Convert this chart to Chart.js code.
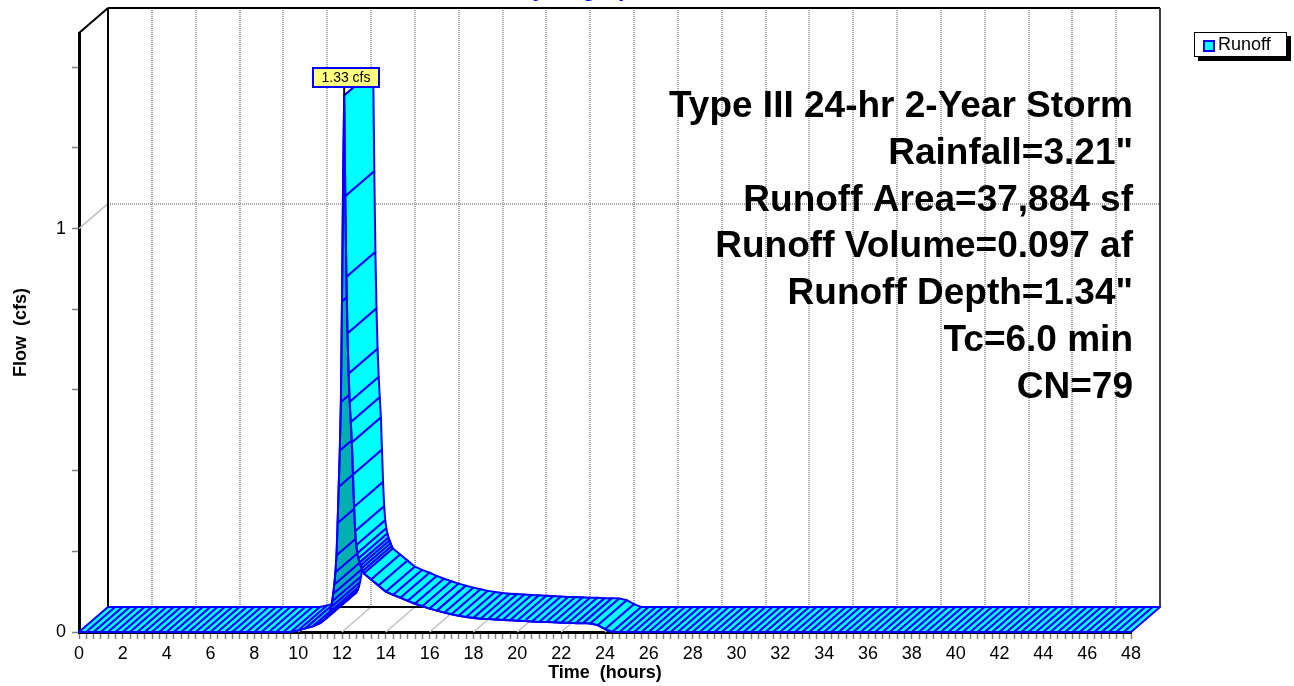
<!DOCTYPE html>
<html>
<head>
<meta charset="utf-8">
<script src="https://cdn.jsdelivr.net/npm/chart.js@4.4.1/dist/chart.umd.min.js"></script>
<style>
  html, body { margin: 0; padding: 0; background: #fff; }
  canvas { display: block; }
</style>
</head>
<body>
<canvas id="hydrograph" width="1294" height="686"></canvas>
<script>
/* ================= DATA ================= */
const seriesName = "Runoff";
const chartTitle = "Hydrograph";
const xTitle = "Time  (hours)";
const yTitle = "Flow  (cfs)";
const peakUnit = "cfs";

const timeHours = [
    0, 0.33, 0.67, 1, 1.33, 1.67, 2, 2.33, 2.67, 3,
    3.33, 3.67, 4, 4.33, 4.67, 5, 5.33, 5.67, 6, 6.33,
    6.67, 7, 7.33, 7.67, 8, 8.33, 8.67, 9, 9.33, 9.67,
    10, 10.33, 10.67, 11, 11.33,
    11.4, 11.45, 11.5, 11.55, 11.6, 11.65, 11.7, 11.75, 11.8, 11.85,
    11.9, 11.95, 12, 12.05, 12.1, 12.15, 12.2, 12.25, 12.3, 12.35,
    12.4, 12.45, 12.5, 12.55, 12.6, 12.65, 12.7, 12.75, 12.8, 12.85,
    12.9, 12.95, 13,
    13.33, 13.67, 14, 14.33, 14.67, 15, 15.33, 15.67, 16, 16.33,
    16.67, 17, 17.33, 17.67, 18, 18.33, 18.67, 19, 19.33, 19.67,
    20, 20.33, 20.67, 21, 21.33, 21.67, 22, 22.33, 22.67, 23,
    23.33, 23.67, 24, 24.33,
    24.67, 25, 25.33, 25.67, 26, 26.33, 26.67, 27, 27.33, 27.67,
    28, 28.33, 28.67, 29, 29.33, 29.67, 30, 30.33, 30.67, 31,
    31.33, 31.67, 32, 32.33, 32.67, 33, 33.33, 33.67, 34, 34.33,
    34.67, 35, 35.33, 35.67, 36, 36.33, 36.67, 37, 37.33, 37.67,
    38, 38.33, 38.67, 39, 39.33, 39.67, 40, 40.33, 40.67, 41,
    41.33, 41.67, 42, 42.33, 42.67, 43, 43.33, 43.67, 44, 44.33,
    44.67, 45, 45.33, 45.67, 46, 46.33, 46.67, 47, 47.33, 47.67,
    48
];

const runoffCfs = [
    0, 0, 0, 0, 0, 0, 0, 0, 0, 0,
    0, 0, 0, 0, 0, 0, 0, 0, 0, 0,
    0, 0, 0, 0, 0, 0, 0, 0, 0, 0,
    0.004, 0.009, 0.014, 0.022, 0.036,
    0.043, 0.05, 0.062, 0.076, 0.095, 0.118, 0.148, 0.19, 0.27, 0.36,
    0.45, 0.57, 0.82, 1.12, 1.33, 1.08, 0.88, 0.74, 0.64, 0.57,
    0.52, 0.47, 0.39, 0.31, 0.25, 0.215, 0.195, 0.182, 0.172, 0.165,
    0.158, 0.151, 0.145,
    0.13, 0.115, 0.1, 0.092, 0.085, 0.077, 0.07, 0.064, 0.058, 0.053,
    0.048, 0.044, 0.04, 0.037, 0.035, 0.033, 0.032, 0.031, 0.03, 0.029,
    0.028, 0.027, 0.026, 0.025, 0.025, 0.024, 0.023, 0.023, 0.022, 0.022,
    0.021, 0.017, 0.007, 0,
    0, 0, 0, 0, 0, 0, 0, 0, 0, 0,
    0, 0, 0, 0, 0, 0, 0, 0, 0, 0,
    0, 0, 0, 0, 0, 0, 0, 0, 0, 0,
    0, 0, 0, 0, 0, 0, 0, 0, 0, 0,
    0, 0, 0, 0, 0, 0, 0, 0, 0, 0,
    0, 0, 0, 0, 0, 0, 0, 0, 0, 0,
    0, 0, 0, 0, 0, 0, 0, 0, 0, 0,
    0
];

const xTickLabels = [0, 2, 4, 6, 8, 10, 12, 14, 16, 18, 20, 22, 24,
                     26, 28, 30, 32, 34, 36, 38, 40, 42, 44, 46, 48];
const yTickMarks = [0, 0.2, 0.4, 0.6, 0.8, 1, 1.2, 1.4];
const yTickLabels = [0, 1];
const yGridLines = [1];

const stormInfo = [
    "Type III 24-hr 2-Year Storm",
    "Rainfall=3.21\"",
    "Runoff Area=37,884 sf",
    "Runoff Volume=0.097 af",
    "Runoff Depth=1.34\"",
    "Tc=6.0 min",
    "CN=79"
];

/* ================= 3D LOOK ================= */
const FONT = '"Liberation Sans", Arial, sans-serif';
const DX = 29, DY = -25;   // depth offset of the back wall

Chart.defaults.font.family = FONT;
Chart.defaults.color = "#000";

function line(ctx, x1, y1, x2, y2) {
    ctx.beginPath();
    ctx.moveTo(x1, y1);
    ctx.lineTo(x2, y2);
    ctx.stroke();
}

const ribbonPlugin = {
    id: "ribbon3d",
    beforeDatasetsDraw(chart) {
        const { ctx, chartArea: a, scales: { x, y } } = chart;
        const backTop = a.top + DY, backBottom = a.bottom + DY;
        const backLeft = a.left + DX, backRight = a.right + DX;

        ctx.save();
        // floor and side wall lines
        ctx.strokeStyle = "#c0c0c0";
        ctx.lineWidth = 1.5;
        xTickLabels.forEach(v => {
            const px = x.getPixelForValue(v);
            line(ctx, px, a.bottom, px + DX, backBottom);
        });
        yGridLines.forEach(v => {
            const py = y.getPixelForValue(v);
            line(ctx, a.left, py, backLeft, py + DY);
        });

        // back wall dotted grid
        ctx.setLineDash([1, 1]);
        ctx.strokeStyle = "#a8a8a8";
        ctx.lineWidth = 2;
        xTickLabels.slice(1, -1).forEach(v => {
            const px = Math.round(x.getPixelForValue(v) + DX);
            line(ctx, px, backTop, px, backBottom);
        });
        yGridLines.forEach(v => {
            const py = Math.round(y.getPixelForValue(v) + DY);
            line(ctx, backLeft, py, backRight, py);
        });
        ctx.setLineDash([]);

        // frame
        ctx.strokeStyle = "#000";
        ctx.lineWidth = 2;
        line(ctx, a.left, a.top, backLeft, backTop);
        line(ctx, backLeft, backTop, backRight, backTop);
        line(ctx, backLeft, backTop, backLeft, backBottom);
        line(ctx, backLeft, backBottom, backRight, backBottom);
        ctx.strokeStyle = "#404040";
        line(ctx, backRight, backTop, backRight, backBottom);

        // ribbon between front curve and back curve
        const pts = chart.getDatasetMeta(0).data;
        ctx.lineWidth = 2;
        ctx.lineJoin = "round";
        ctx.strokeStyle = "#0000ff";
        for (let i = 0; i < pts.length - 1; i++) {
            const p0 = pts[i], p1 = pts[i + 1];
            const cross = (p1.x - p0.x) * DY - (p1.y - p0.y) * DX;
            ctx.beginPath();
            ctx.moveTo(p0.x, p0.y);
            ctx.lineTo(p1.x, p1.y);
            ctx.lineTo(p1.x + DX, p1.y + DY);
            ctx.lineTo(p0.x + DX, p0.y + DY);
            ctx.closePath();
            ctx.fillStyle = cross > 0 ? "#00b0b0" : "#00ffff";
            ctx.fill();
            ctx.stroke();
        }
        ctx.restore();
    },
    afterDatasetsDraw(chart) {
        const { ctx, chartArea: a } = chart;
        const meta = chart.getDatasetMeta(0);
        ctx.save();

        // peak label
        let k = 0;
        runoffCfs.forEach((v, i) => { if (v > runoffCfs[k]) k = i; });
        const p = meta.data[k];
        const w = 66, h = 19;
        const bx = Math.round(p.x + 2 - w / 2), by = Math.round(p.y - 9 - h);
        ctx.strokeStyle = "#000";
        ctx.lineWidth = 2;
        line(ctx, p.x, p.y, p.x, by + h);
        ctx.fillStyle = "#ffff80";
        ctx.fillRect(bx, by, w, h);
        ctx.strokeStyle = "#0000ff";
        ctx.strokeRect(bx, by, w, h);
        ctx.fillStyle = "#000";
        ctx.font = "14px " + FONT;
        ctx.textAlign = "center";
        ctx.textBaseline = "middle";
        ctx.fillText(runoffCfs[k].toFixed(2) + " " + peakUnit, bx + w / 2, by + h / 2 + 1);

        // storm info block
        ctx.font = "bold 37px " + FONT;
        ctx.textAlign = "right";
        ctx.textBaseline = "alphabetic";
        stormInfo.forEach((s, i) => ctx.fillText(s, a.right + 2, 117 + i * 46.8));

        // title (cut by the top edge)
        ctx.fillStyle = "#0000ff";
        ctx.font = "bold 23px " + FONT;
        ctx.textAlign = "center";
        ctx.fillText(chartTitle, 581, -4);

        // legend
        const ds = chart.data.datasets[0];
        ctx.fillStyle = "#000";
        ctx.fillRect(1198, 36, 93, 25);
        ctx.fillStyle = "#fff";
        ctx.fillRect(1194, 32, 93, 25);
        ctx.strokeStyle = "#000";
        ctx.lineWidth = 1;
        ctx.strokeRect(1194.5, 32.5, 92, 24);
        ctx.fillStyle = ds.backgroundColor;
        ctx.fillRect(1204, 41, 10, 10);
        ctx.strokeStyle = ds.borderColor;
        ctx.lineWidth = 2;
        ctx.strokeRect(1204, 41, 10, 10);
        ctx.fillStyle = "#000";
        ctx.font = "18px " + FONT;
        ctx.textAlign = "left";
        ctx.textBaseline = "middle";
        ctx.fillText(ds.label, 1218, 45);
        ctx.restore();
    }
};

/* ================= CHART ================= */
const axisGrid = {
    drawOnChartArea: false,
    drawTicks: true,
    tickLength: 7,
    tickColor: "#808080",
    tickWidth: 1.5
};

new Chart(document.getElementById("hydrograph"), {
    type: "line",
    data: {
        datasets: [{
            label: seriesName,
            data: timeHours.map((t, i) => ({ x: t, y: runoffCfs[i] })),
            borderColor: "#0000ff",
            backgroundColor: "#00ffff",
            borderWidth: 2,
            pointRadius: 0,
            tension: 0,
            fill: false,
            clip: false
        }]
    },
    options: {
        responsive: false,
        animation: false,
        devicePixelRatio: 1,
        layout: { padding: { left: 0, top: 33, right: 163, bottom: 0 } },
        plugins: { legend: { display: false }, tooltip: { enabled: false } },
        scales: {
            x: {
                type: "linear",
                min: 0,
                max: 48,
                afterBuildTicks(s) {
                    const t = [];
                    for (let k = 0; k <= 144; k++) t.push({ value: k / 3 });
                    s.ticks = t;
                },
                afterFit(s) { s.height = 54; },
                ticks: {
                    autoSkip: false,
                    maxRotation: 0,
                    minRotation: 0,
                    padding: 4,
                    font: { size: 18 },
                    color: "#000",
                    callback(v) {
                        const hit = xTickLabels.find(l => Math.abs(l - v) < 1e-6);
                        return hit === undefined ? "" : String(hit);
                    }
                },
                grid: axisGrid,
                border: { display: true, color: "#000", width: 3 },
                title: {
                    display: true, text: xTitle, color: "#000",
                    font: { size: 18, weight: "bold" },
                    padding: { top: 0, bottom: 2 }
                }
            },
            y: {
                type: "linear",
                min: 0,
                max: 1.485,
                afterBuildTicks(s) { s.ticks = yTickMarks.map(v => ({ value: v })); },
                afterFit(s) { s.width = 79; },
                ticks: {
                    padding: 6,
                    font: { size: 18 },
                    color: "#000",
                    callback(v) {
                        const hit = yTickLabels.find(l => Math.abs(l - v) < 1e-6);
                        return hit === undefined ? "" : String(hit);
                    }
                },
                grid: axisGrid,
                border: { display: true, color: "#000", width: 3 },
                title: {
                    display: true, text: yTitle, color: "#000",
                    font: { size: 18, weight: "bold" },
                    padding: { top: 10, bottom: 0 }
                }
            }
        }
    },
    plugins: [ribbonPlugin]
});
</script>
</body>
</html>
